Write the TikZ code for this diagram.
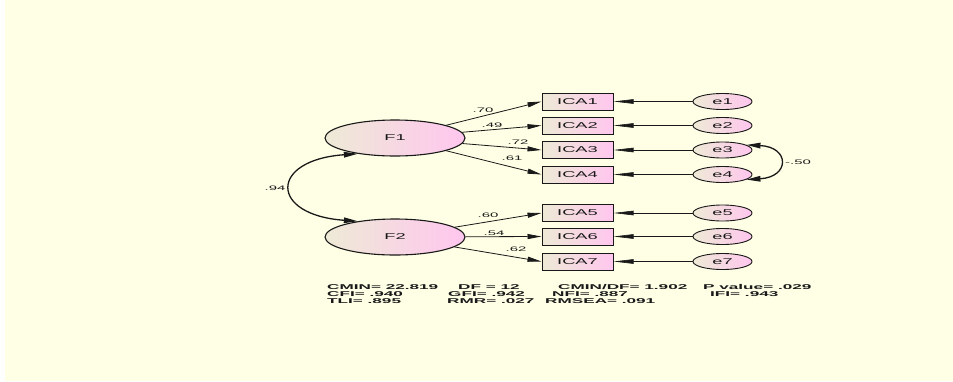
\documentclass[tikz,border=0pt]{standalone}
\usepackage{fontspec}
\usetikzlibrary{shapes.geometric,arrows.meta}
\newfontfamily\nodefont[FakeStretch=2.15]{Liberation Sans}
\newfontfamily\pathfont[FakeStretch=2.3]{Liberation Sans}
\newfontfamily\fitfont[FakeStretch=2.45]{Liberation Sans}
\definecolor{paper}{RGB}{255,255,230}
\definecolor{gradA}{RGB}{238,234,214}
\definecolor{gradB}{RGB}{255,198,238}
\definecolor{ink}{RGB}{25,25,25}
\tikzset{
  latent/.style={ellipse, draw=ink, line width=1.1pt, minimum width=140pt,
    minimum height=36pt, inner sep=0pt, left color=gradA, right color=gradB,
    text=ink, font=\nodefont\fontsize{8.5}{10}\selectfont},
  obs/.style={rectangle, draw=ink, line width=1pt, minimum width=71pt,
    minimum height=17pt, inner sep=0pt, left color=gradA, right color=gradB,
    text=ink, font=\nodefont\fontsize{8.5}{10}\selectfont},
  err/.style={ellipse, draw=ink, line width=0.9pt, minimum width=59pt,
    minimum height=16pt, inner sep=0pt, left color=gradA, right color=gradB,
    text=ink, font=\nodefont\fontsize{8.5}{10}\selectfont},
  load/.style={draw=ink, line width=0.8pt, -{Triangle[length=14pt,width=5pt]}},
  resid/.style={draw=ink, line width=0.6pt, -{Triangle[length=20pt,width=4.5pt]}},
  cov/.style={draw=ink, line width=1.3pt,
    {Triangle[length=14pt,width=5.5pt]}-{Triangle[length=14pt,width=5.5pt]}},
  coef/.style={inner sep=0pt, text=ink, font=\pathfont\fontsize{6.5}{7}\selectfont},
  fit/.style={anchor=base west, inner sep=0pt, text=ink,
    font=\fitfont\bfseries\fontsize{7}{8}\selectfont},
}
\begin{document}
\begin{tikzpicture}[x=1pt, y=-1pt]
  % page
  \useasboundingbox (0,0) rectangle (953,381);
  \fill[white] (0,0) rectangle (953,381);
  \fill[paper] (5,0) rectangle (953,381);

  % latent factors
  \node[latent] (F1) at (395,138) {F1};
  \node[latent] (F2) at (395,237) {F2};

  % indicators
  \node[obs] (I1) at (577.5,101.5) {ICA1};
  \node[obs] (I2) at (577.5,125.5) {ICA2};
  \node[obs] (I3) at (577.5,150)   {ICA3};
  \node[obs] (I4) at (577.5,174.5) {ICA4};
  \node[obs] (I5) at (577.5,213)   {ICA5};
  \node[obs] (I6) at (577.5,236.5) {ICA6};
  \node[obs] (I7) at (577.5,261.5) {ICA7};

  % error terms
  \node[err] (e1) at (722.5,101.5) {e1};
  \node[err] (e2) at (722.5,125.5) {e2};
  \node[err] (e3) at (722.5,150)   {e3};
  \node[err] (e4) at (722.5,174.5) {e4};
  \node[err] (e5) at (722.5,213)   {e5};
  \node[err] (e6) at (722.5,236.5) {e6};
  \node[err] (e7) at (722.5,261.5) {e7};

  % factor loadings
  \draw[load] (F1) -- (I1.west);
  \draw[load] (F1) -- (I2.west);
  \draw[load] (F1) -- (I3.west);
  \draw[load] (F1) -- (I4.west);
  \draw[load] (F2) -- (I5.west);
  \draw[load] (F2) -- (I6.west);
  \draw[load] (F2) -- (I7.west);
  \node[coef] at (483,110) {.70};
  \node[coef] at (492,125) {.49};
  \node[coef] at (518,142) {.72};
  \node[coef] at (512,158) {.61};
  \node[coef] at (488,215) {.60};
  \node[coef] at (494,233) {.54};
  \node[coef] at (516,249) {.62};

  % residual paths
  \foreach \k in {1,...,7} {
    \draw[resid] (e\k.west) -- (I\k.east);
  }

  % covariances
  \draw[cov] (F1.203) .. controls (269,160) and (269,215) .. (F2.157);
  \node[coef] at (275,188) {.94};
  \draw[cov] (e3.12) .. controls (790,147) and (790,177) .. (e4.-12);
  \node[coef] at (798,162) {-.50};

  % fit statistics
  \node[fit] at (327,289.5) {CMIN= 22.819};
  \node[fit] at (458,289.5) {DF = 12};
  \node[fit] at (558,289.5) {CMIN/DF= 1.902};
  \node[fit] at (703,289.5) {P value= .029};
  \node[fit] at (327,296.5) {CFI= .940};
  \node[fit] at (448,296.5) {GFI= .942};
  \node[fit] at (552,296.5) {NFI= .887};
  \node[fit] at (710,296.5) {IFI= .943};
  \node[fit] at (327,303.5) {TLI= .895};
  \node[fit] at (447,303.5) {RMR= .027};
  \node[fit] at (545,303.5) {RMSEA= .091};
\end{tikzpicture}
\end{document}
